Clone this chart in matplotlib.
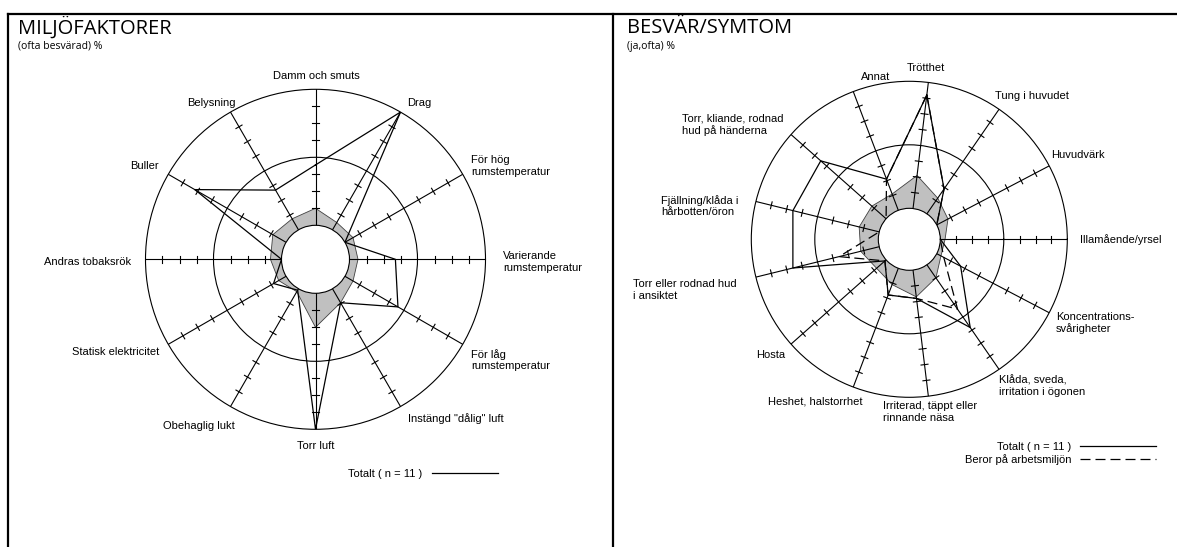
import numpy as np
import matplotlib
matplotlib.use('Agg')
import matplotlib.pyplot as plt
from matplotlib.lines import Line2D

W, H = 1177, 547
plt.rcParams['font.family'] = ['Liberation Sans', 'DejaVu Sans']
plt.rcParams['font.size'] = 8

# Miljöfaktorer (clockwise from top), percent
miljo_labels = ['Damm och smuts', 'Drag', 'För hög\nrumstemperatur',
                'Varierande\nrumstemperatur', 'För låg\nrumstemperatur',
                'Instängd "dålig" luft', 'Torr luft', 'Obehaglig lukt',
                'Statisk elektricitet', 'Andras tobaksrök', 'Buller', 'Belysning']
miljo_totalt = [35.5, 80, 0, 27, 36, 9.5, 80, 1, 8.5, 0, 62, 27]
miljo_ref = [10, 5, 5.5, 5, 5.5, 9.5, 20, 2, 5, 6.5, 9, 7.5]

# Besvär/symtom (clockwise from top), percent
besvar_labels = ['Trötthet', 'Tung i huvudet', 'Huvudvärk', 'Illamående/yrsel',
                 'Koncentrations-\nsvårigheter', 'Klåda, sveda,\nirritation i ögonen',
                 'Irriterad, täppt eller\nrinnande näsa', 'Heshet, halstorrhet', 'Hosta',
                 'Torr eller rodnad hud\ni ansiktet', 'Fjällning/klåda i\nhårbotten/öron',
                 'Torr, kliande, rodnad\nhud på händerna', 'Annat']
besvar_totalt = [36, 9.5, 0, 0, 8.5, 24, 9, 9, 0.5, 28, 28, 27.5, 10.5]
besvar_arbete = [36, 9.5, 0, 0, 2.5, 17, 9, 9, 0.5, 13, 0, 0, 10.5]
besvar_ref = [10.5, 6, 4, 1.5, 1.5, 5, 8.5, 5.5, 4, 6, 6.5, 6, 5.5]

# label anchor points in image pixels (x, y, ha)
miljo_pos = [(316, 76, 'center'), (407, 103, 'left'), (471, 166, 'left'),
             (503, 262, 'left'), (471, 360, 'left'), (408, 419, 'left'),
             (316, 446, 'center'), (235, 426, 'right'), (159, 352, 'right'),
             (131, 262, 'right'), (159, 166, 'right'), (236, 103, 'right')]
besvar_pos = [(926, 68, 'center'), (995, 96, 'left'), (1051, 155, 'left'),
              (1080, 240, 'left'), (1056, 323, 'left'), (999, 386, 'left'),
              (883, 412, 'left'), (863, 401, 'right'), (785, 355, 'right'),
              (633, 290, 'left'), (661, 206, 'left'), (682, 125, 'left'),
              (876, 77, 'center')]

fig = plt.figure(figsize=(W / 100, H / 100), dpi=100)


def fx(x):
    return x / W


def fy(y):
    return 1 - y / H


def radar(cx, cy, rad, hole, rmax, ring, ticks, thetas):
    ax = fig.add_axes([fx(cx - rad), fy(cy + rad), 2 * rad / W, 2 * rad / H],
                      projection='polar')
    ax.set_rorigin(-hole)
    ax.set_ylim(0, rmax)
    ax.set_xticks([])
    ax.set_rgrids([ring], labels=[''])
    ax.yaxis.grid(True, color='black', lw=0.8)
    ax.spines['polar'].set(color='black', lw=0.8)
    ax.spines['inner'].set(color='black', lw=0.8)
    # half tick length in data units (3.5 px)
    h = 3.5 * (rmax + hole) / rad
    for t in thetas:
        ax.plot([t, t], [0, rmax], color='black', lw=0.8, zorder=2)
        for r in ticks:
            R = r + hole
            a = np.arctan(h / R)
            rr = np.hypot(R, h) - hole
            ax.plot([t - a, t + a], [rr, rr], color='black', lw=0.8, zorder=2)
    return ax


def closed(a):
    return list(a) + [a[0]]


# left chart
th1 = np.deg2rad(90 - 30 * np.arange(len(miljo_labels)))
ax1 = radar(315.5, 259.3, 170, 20, 80, 40, [10, 20, 30, 50, 60, 70], th1)
ax1.fill(closed(th1), closed(miljo_ref), facecolor='#c0c0c0',
         edgecolor='#404040', lw=0.6, zorder=1)
l1, = ax1.plot(closed(th1), closed(miljo_totalt), color='black', lw=0.9, zorder=3,
               label='Totalt ( n = 11 )')
for v in [40, 80]:
    ax1.annotate(f'{v}%', (0, v), xytext=(0, 1), textcoords='offset points',
                 ha='center', va='bottom', fontsize=8.5)
ax1.legend(handles=[l1], loc='center left', bbox_to_anchor=(fx(348), fy(474)),
           bbox_transform=fig.transFigure, frameon=False, markerfirst=False,
           handlelength=5.9, handletextpad=0.9, borderpad=0, borderaxespad=0,
           fontsize=8)

# right chart
n2 = len(besvar_labels)
th2 = np.deg2rad(90 - 360 / n2 * (np.arange(n2) + 0.25))
ax2 = radar(909.3, 239.3, 158, 9.76, 40, 20, [5, 10, 15, 25, 30, 35], th2)
ax2.fill(closed(th2), closed(besvar_ref), facecolor='#c0c0c0',
         edgecolor='#404040', lw=0.6, zorder=1)
l2, = ax2.plot(closed(th2), closed(besvar_totalt), color='black', lw=0.9, zorder=3,
               label='Totalt ( n = 11 )')
l3, = ax2.plot(closed(th2), closed(besvar_arbete), color='black', lw=0.9, zorder=3,
               dashes=(8, 4), label='Beror på arbetsmiljön')
for v in [20, 40]:
    ax2.annotate(f'{v}%', (0, v), xytext=(0, 1), textcoords='offset points',
                 ha='center', va='bottom', fontsize=8.5)
ax2.legend(handles=[l2, l3], loc='center left', bbox_to_anchor=(fx(965), fy(453.5)),
           bbox_transform=fig.transFigure, frameon=False, markerfirst=False,
           handlelength=6.8, handletextpad=0.8, borderpad=0, borderaxespad=0,
           labelspacing=0.2, fontsize=8)

for lab, (x, y, ha) in zip(miljo_labels, miljo_pos):
    fig.text(fx(x), fy(y), lab, ha=ha, va='center', fontsize=8, linespacing=1.15)
for lab, (x, y, ha) in zip(besvar_labels, besvar_pos):
    fig.text(fx(x), fy(y), lab, ha=ha, va='center', fontsize=8, linespacing=1.15)

# titles
fig.text(fx(18), fy(28), 'MILJÖFAKTORER', fontsize=14.5, family='Open Sans',
         va='center')
fig.text(fx(18), fy(46), '(ofta besvärad) %', fontsize=7.5, family='Open Sans',
         va='center')
fig.text(fx(627), fy(28), 'BESVÄR/SYMTOM', fontsize=14.5, family='Open Sans',
         va='center')
fig.text(fx(627), fy(46), '(ja,ofta) %', fontsize=7.5, family='Open Sans',
         va='center')

# frame
for xs, ys in [((8, W), (14, 14)), ((8, 8), (14, H)), ((613, 613), (14, H))]:
    fig.add_artist(Line2D([fx(x) for x in xs], [fy(y) for y in ys],
                          color='black', lw=1.6))

plt.savefig('out.png', dpi=100)
